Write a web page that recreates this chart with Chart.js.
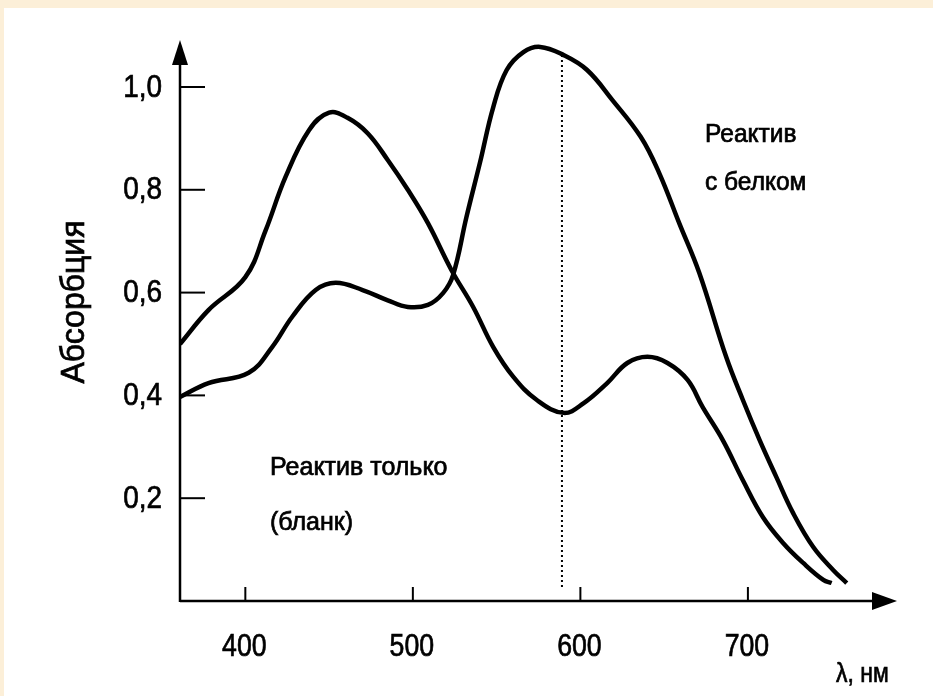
<!DOCTYPE html>
<html>
<head>
<meta charset="utf-8">
<script src="https://cdn.jsdelivr.net/npm/chart.js@4.4.1/dist/chart.umd.min.js"></script>
<style>
  html, body { margin: 0; padding: 0; background: #fcefd8; }
  #wrap { position: absolute; left: 4px; top: 8px; width: 929px; height: 688px; background: #ffffff; }
</style>
</head>
<body>
<div id="wrap"><canvas id="grafico" width="929" height="688"></canvas></div>
<script>
// кривая "Реактив только (бланк)": длина волны, нм / абсорбция
const blankNm = [361, 378, 400, 412, 424, 438, 450, 461, 473, 485, 497, 509, 523, 536, 548, 560, 574, 590, 602, 616, 628, 640, 652, 664, 673, 685, 697, 709, 721, 733, 745, 750];
const blankAbs = [0.50, 0.566, 0.63, 0.72, 0.825, 0.916, 0.95, 0.94, 0.91, 0.858, 0.80, 0.735, 0.644, 0.572, 0.494, 0.436, 0.391, 0.366, 0.385, 0.424, 0.463, 0.475, 0.463, 0.43, 0.377, 0.313, 0.235, 0.163, 0.113, 0.074, 0.041, 0.035];

// кривая "Реактив с белком"
const proteinNm = [361, 378, 402, 416, 428, 442, 454, 470, 485, 497, 509, 518, 524, 532, 540, 548, 556, 566, 576, 590, 604, 619, 636, 647, 659, 671, 687, 697, 707, 717, 727, 739, 751, 759];
const proteinAbs = [0.397, 0.424, 0.444, 0.494, 0.553, 0.605, 0.619, 0.605, 0.585, 0.572, 0.576, 0.599, 0.634, 0.747, 0.852, 0.961, 1.033, 1.068, 1.078, 1.062, 1.033, 0.975, 0.903, 0.833, 0.735, 0.638, 0.475, 0.391, 0.313, 0.241, 0.171, 0.105, 0.06, 0.035];

const xTicks = [400, 500, 600, 700];
const yTicks = [0.2, 0.4, 0.6, 0.8, 1.0];
const yTickLabels = ["0,2", "0,4", "0,6", "0,8", "1,0"];
const peakNm = 589;
const peakAbs = 1.062;

function toPoints(xs, ys) {
    return xs.map((x, i) => ({ x: x, y: ys[i] }));
}

// узкий текст: шрифт сжимается по горизонтали, чуть жирнее
function uzkiyText(ctx, text, x, y, sxk, align) {
    ctx.save();
    ctx.translate(x, y);
    ctx.scale(sxk, 1);
    ctx.textAlign = align;
    ctx.lineWidth = 0.7;
    ctx.fillText(text, 0, 0);
    ctx.strokeText(text, 0, 0);
    ctx.restore();
}

const risovka = {
    id: "risovka",
    afterDatasetsDraw(chart) {
        const ctx = chart.ctx;
        const sx = chart.scales.x;
        const sy = chart.scales.y;
        const left = chart.chartArea.left;
        const bottom = chart.chartArea.bottom;
        const top = chart.chartArea.top;
        const right = chart.chartArea.right;

        ctx.save();
        ctx.strokeStyle = "#000";
        ctx.fillStyle = "#000";

        // пунктир у максимума
        ctx.lineWidth = 2;
        ctx.setLineDash([2, 3]);
        ctx.beginPath();
        ctx.moveTo(sx.getPixelForValue(peakNm), sy.getPixelForValue(peakAbs));
        ctx.lineTo(sx.getPixelForValue(peakNm), bottom - 12);
        ctx.stroke();
        ctx.setLineDash([]);

        // оси
        ctx.lineWidth = 2.5;
        ctx.beginPath();
        ctx.moveTo(left, bottom + 1);
        ctx.lineTo(left, top + 18);
        ctx.moveTo(left, bottom);
        ctx.lineTo(right - 20, bottom);
        ctx.stroke();

        // стрелки
        ctx.beginPath();
        ctx.moveTo(left, top);
        ctx.lineTo(left - 8, top + 25);
        ctx.lineTo(left + 8, top + 25);
        ctx.closePath();
        ctx.fill();
        ctx.beginPath();
        ctx.moveTo(right, bottom);
        ctx.lineTo(right - 25, bottom - 9);
        ctx.lineTo(right - 25, bottom + 9);
        ctx.closePath();
        ctx.fill();

        // деления
        ctx.lineWidth = 2;
        yTicks.forEach((v) => {
            const y = sy.getPixelForValue(v);
            ctx.beginPath();
            ctx.moveTo(left, y);
            ctx.lineTo(left + 25, y);
            ctx.stroke();
        });
        xTicks.forEach((v) => {
            const x = sx.getPixelForValue(v);
            ctx.beginPath();
            ctx.moveTo(x, bottom);
            ctx.lineTo(x, bottom - 14);
            ctx.stroke();
        });

        // подписи делений
        ctx.font = '31px "Liberation Sans", Arial, sans-serif';
        ctx.textBaseline = "middle";
        yTicks.forEach((v, i) => {
            uzkiyText(ctx, yTickLabels[i], left - 18, sy.getPixelForValue(v) + 1, 0.9, "right");
        });
        xTicks.forEach((v) => {
            uzkiyText(ctx, String(v), sx.getPixelForValue(v) - 1, bottom + 46, 0.86, "center");
        });

        ctx.font = '27px "Liberation Sans", Arial, sans-serif';
        uzkiyText(ctx, "λ, нм", right - 61, bottom + 74, 0.85, "left");

        // подпись оси Y
        ctx.save();
        ctx.translate(71, 294);
        ctx.rotate(-Math.PI / 2);
        ctx.font = '33px "Liberation Sans", Arial, sans-serif';
        uzkiyText(ctx, "Абсорбция", 0, 0, 0.97, "center");
        ctx.restore();

        // подписи кривых
        ctx.font = '25px "Liberation Sans", Arial, sans-serif';
        uzkiyText(ctx, "Реактив", 701, 127, 0.98, "left");
        uzkiyText(ctx, "с белком", 701, 175, 0.98, "left");
        uzkiyText(ctx, "Реактив только", 266, 460, 1.0, "left");
        uzkiyText(ctx, "(бланк)", 266, 515, 1.0, "left");

        ctx.restore();
    }
};

new Chart(document.getElementById("grafico").getContext("2d"), {
    type: "line",
    data: {
        datasets: [
            {
                label: "Реактив только (бланк)",
                data: toPoints(blankNm, blankAbs),
                borderColor: "#000",
                borderWidth: 4.5,
                pointRadius: 0,
                fill: false,
                tension: 0.4
            },
            {
                label: "Реактив с белком",
                data: toPoints(proteinNm, proteinAbs),
                borderColor: "#000",
                borderWidth: 4.5,
                pointRadius: 0,
                fill: false,
                tension: 0.4
            }
        ]
    },
    options: {
        responsive: false,
        animation: false,
        layout: { padding: { left: 176, top: 32, right: 36, bottom: 95 } },
        plugins: {
            legend: { display: false },
            tooltip: { enabled: false }
        },
        scales: {
            x: { type: "linear", display: false, min: 361, max: 789 },
            y: { type: "linear", display: false, min: 0, max: 1.0914 }
        }
    },
    plugins: [risovka]
});
</script>
</body>
</html>
